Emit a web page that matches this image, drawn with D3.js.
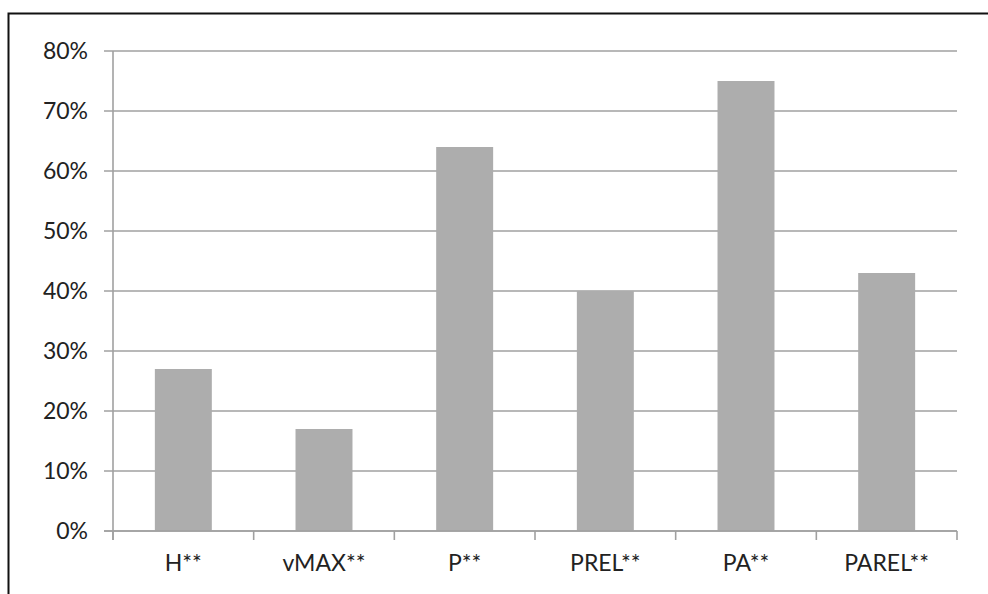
<!DOCTYPE html>
<html>
<head>
<meta charset="utf-8">
<script src="https://cdn.jsdelivr.net/npm/d3@7"></script>
<style>
html,body{margin:0;padding:0;background:#fff;}
svg{display:block;}
</style>
</head>
<body>
<svg id="chart" width="988" height="594"></svg>
<script>
const categories = ["H**", "vMAX**", "P**", "PREL**", "PA**", "PAREL**"];
const values = [0.27, 0.17, 0.64, 0.40, 0.75, 0.43];
const yTicks = [0, 0.1, 0.2, 0.3, 0.4, 0.5, 0.6, 0.7, 0.8];

(function () {
const svg = d3.select("#chart");
const mLeft = 113, mRight = 957, mTop = 51, mBottom = 531;
const font = "Lato, 'Open Sans', sans-serif";
const textColor = "#222";
const gridColor = "#a0a0a0";

// outer frame
svg.append("rect").attr("x", 8.5).attr("y", 13.5).attr("width", 1000).attr("height", 700)
  .attr("fill", "none").attr("stroke", "#111").attr("stroke-width", 2);

const x = d3.scaleBand().domain(categories).range([mLeft, mRight])
  .paddingInner(0.595).paddingOuter(0.2975);
const y = d3.scaleLinear().domain([0, 0.8]).range([mBottom, mTop]);

// gridlines
svg.append("g").selectAll("line").data(yTicks).join("line")
  .attr("x1", mLeft - 9).attr("x2", mRight)
  .attr("y1", d => y(d)).attr("y2", d => y(d))
  .attr("stroke", gridColor).attr("stroke-width", 1.6);

// y labels
const yAxis = d3.axisLeft(y).tickValues(yTicks).tickFormat(d3.format(".0%")).tickSize(0).tickPadding(0);
const gy = svg.append("g").attr("transform", "translate(88,0)").call(yAxis);
gy.select(".domain").remove();
gy.selectAll("text").attr("font-family", font).attr("font-size", 23).attr("fill", textColor);

// bars
svg.append("g").selectAll("rect").data(values).join("rect")
  .attr("x", (d, i) => x(categories[i]))
  .attr("width", x.bandwidth())
  .attr("y", d => y(d))
  .attr("height", d => y(0) - y(d))
  .attr("fill", "#adadad");

// y axis line
svg.append("line").attr("x1", mLeft).attr("x2", mLeft).attr("y1", mTop).attr("y2", mBottom + 9)
  .attr("stroke", gridColor).attr("stroke-width", 1.6);

// x axis line and category boundary ticks
const xEdges = categories.map((c, i) => mLeft + i * x.step());
xEdges.push(mRight);
svg.append("line").attr("x1", mLeft - 9).attr("x2", mRight).attr("y1", mBottom).attr("y2", mBottom)
  .attr("stroke", gridColor).attr("stroke-width", 1.6);
svg.append("g").selectAll("line").data(xEdges).join("line")
  .attr("x1", d => d).attr("x2", d => d).attr("y1", mBottom).attr("y2", mBottom + 9)
  .attr("stroke", gridColor).attr("stroke-width", 1.6);

const xAxis = d3.axisBottom(x).tickSize(0).tickPadding(0);
const gx = svg.append("g").attr("transform", `translate(0,${mBottom + 24})`).call(xAxis);
gx.select(".domain").remove();
gx.selectAll("text").attr("font-family", font).attr("font-size", 23).attr("fill", textColor);
})();
</script>
</body>
</html>
